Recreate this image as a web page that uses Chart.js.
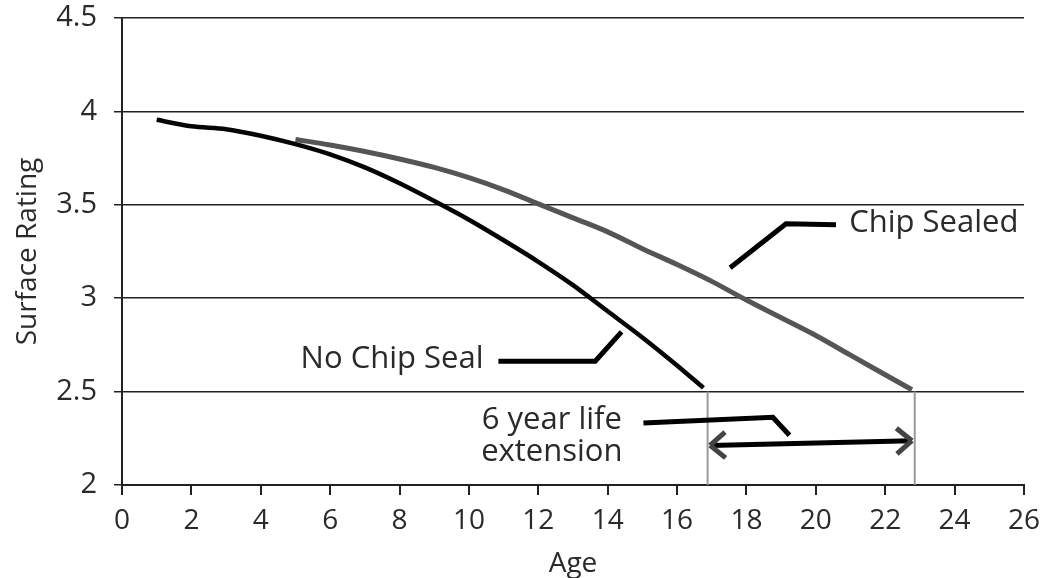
<!DOCTYPE html>
<html lang="en">
<head>
  <meta charset="UTF-8">
  <title>Surface Rating vs Age</title>
  <script src="https://cdn.jsdelivr.net/npm/chart.js"></script>
  <style>
    html, body {
      margin: 0;
      padding: 0;
      background: #fff;
    }
    .wrap {
      width: 1047px;
      height: 578px;
    }
  </style>
</head>
<body>
  <div class="wrap"><canvas id="chart"></canvas></div>

  <script>
    // curves
    const noSealAge = [1, 2, 3, 4, 5, 6, 7, 8, 9, 10, 11, 12, 13, 14, 15, 16, 16.76];
    const noSealRating = [3.955, 3.92, 3.905, 3.87, 3.825, 3.77, 3.70, 3.615, 3.52, 3.42, 3.31, 3.195, 3.07, 2.93, 2.79, 2.64, 2.52];
    const sealedAge = [5, 6, 7, 8, 9, 10, 11, 12, 13, 14, 15, 16, 17, 18, 19, 20, 21, 22, 22.77];
    const sealedRating = [3.85, 3.82, 3.785, 3.745, 3.70, 3.645, 3.58, 3.505, 3.43, 3.355, 3.265, 3.18, 3.09, 2.99, 2.895, 2.80, 2.695, 2.59, 2.51];

    const xTicks = [0, 2, 4, 6, 8, 10, 12, 14, 16, 18, 20, 22, 24, 26];
    const yTicks = [2, 2.5, 3, 3.5, 4, 4.5];

    // callouts, in data units
    const sealedLabel = ['Chip Sealed', 20.96, 3.40];
    const sealedLeader = [[17.53, 3.163], [19.14, 3.398], [20.58, 3.393]];
    const noSealLabel = ['No Chip Seal', 10.42, 2.675];
    const noSealLeader = [[10.85, 2.663], [13.64, 2.663], [14.4, 2.82]];
    const lifeLabel = [['6 year life', 12.39, 2.349], ['extension', 12.39, 2.178]];
    const lifeLeader = [[15.03, 2.332], [18.76, 2.363], [19.24, 2.266]];
    const lifeArrow = [[16.95, 2.212], [22.77, 2.237]];
    const endAges = [16.88, 22.85];

    const ink = '#222';
    const font = '"Open Sans", "Noto Sans", sans-serif';

    function pts(xs, ys) {
      return xs.map((x, i) => ({ x: x, y: ys[i] }));
    }

    const callouts = {
      id: 'callouts',
      afterDatasetsDraw(chart) {
        const ctx = chart.ctx;
        const sx = chart.scales.x, sy = chart.scales.y;
        const px = p => [sx.getPixelForValue(p[0]), sy.getPixelForValue(p[1])];

        function poly(list, color, width) {
          ctx.beginPath();
          list.forEach((p, i) => {
            const [x, y] = px(p);
            if (i === 0) ctx.moveTo(x, y); else ctx.lineTo(x, y);
          });
          ctx.strokeStyle = color;
          ctx.lineWidth = width;
          ctx.lineCap = 'butt';
          ctx.lineJoin = 'miter';
          ctx.stroke();
        }

        ctx.save();

        // thin grey drops from the curve ends
        endAges.forEach(a => poly([[a, 2.5], [a, 2]], '#9a9a9a', 2));

        poly(sealedLeader, '#000', 5);
        poly(noSealLeader, '#000', 5);
        poly(lifeLeader, '#000', 5);

        // double arrow
        const [ax, ay] = px(lifeArrow[0]);
        const [bx, by] = px(lifeArrow[1]);
        poly(lifeArrow, '#000', 5);
        const ang = Math.atan2(by - ay, bx - ax);
        const head = (x, y, dir) => {
          ctx.beginPath();
          [-0.7, 0.7].forEach(d => {
            ctx.moveTo(x, y);
            ctx.lineTo(x - dir * 20 * Math.cos(ang + d), y - dir * 20 * Math.sin(ang + d));
          });
          ctx.strokeStyle = '#444';
          ctx.lineWidth = 5;
          ctx.stroke();
        };
        head(bx, by, 1);
        head(ax, ay, -1);

        ctx.fillStyle = '#2a2a2a';
        ctx.font = '31px ' + font;
        ctx.textBaseline = 'middle';
        ctx.textAlign = 'left';
        let [tx, ty] = px([sealedLabel[1], sealedLabel[2]]);
        ctx.fillText(sealedLabel[0], tx, ty);
        ctx.textAlign = 'right';
        [tx, ty] = px([noSealLabel[1], noSealLabel[2]]);
        ctx.fillText(noSealLabel[0], tx, ty);
        ctx.textAlign = 'center';
        lifeLabel.forEach(l => {
          const [lx, ly] = px([l[1], l[2]]);
          ctx.fillText(l[0], lx, ly);
        });

        ctx.restore();
      }
    };

    new Chart(document.getElementById('chart'), {
      type: 'scatter',
      data: {
        datasets: [
          {
            label: 'No Chip Seal',
            data: pts(noSealAge, noSealRating),
            showLine: true,
            borderColor: '#050505',
            borderWidth: 4.5,
            pointRadius: 0,
            tension: 0.3
          },
          {
            label: 'Chip Sealed',
            data: pts(sealedAge, sealedRating),
            showLine: true,
            borderColor: '#555',
            borderWidth: 5,
            pointRadius: 0,
            tension: 0.3
          }
        ]
      },
      options: {
        responsive: true,
        maintainAspectRatio: false,
        animation: false,
        layout: { padding: { top: 18, right: 23, left: 0, bottom: 0 } },
        plugins: {
          legend: { display: false },
          tooltip: { enabled: false }
        },
        scales: {
          x: {
            type: 'linear',
            min: xTicks[0],
            max: xTicks[xTicks.length - 1],
            afterBuildTicks: s => { s.ticks = xTicks.map(v => ({ value: v })); },
            afterFit: s => { s.height = 93; s.paddingLeft = 0; s.paddingRight = 0; },
            border: { display: true, color: ink, width: 2 },
            grid: { color: 'rgba(0,0,0,0)', tickColor: ink, tickLength: 10, lineWidth: 2, drawTicks: true },
            ticks: { color: '#2a2a2a', font: { family: font, size: 28 }, padding: 9, maxRotation: 0 },
            title: { display: true, text: 'Age', color: '#2a2a2a', font: { family: font, size: 28 }, padding: { top: 0, bottom: -3 } }
          },
          y: {
            min: yTicks[0],
            max: yTicks[yTicks.length - 1],
            afterBuildTicks: s => { s.ticks = yTicks.map(v => ({ value: v })); },
            afterFit: s => { s.width = 122; s.paddingTop = 0; s.paddingBottom = 0; },
            border: { display: true, color: ink, width: 2 },
            grid: { color: ink, tickColor: ink, lineWidth: 1.5, tickLength: 8 },
            ticks: {
              color: '#2a2a2a',
              font: { family: font, size: 29 },
              padding: 17,
              callback: v => String(v)
            },
            title: { display: true, text: 'Surface Rating', color: '#2a2a2a', font: { family: font, size: 28 }, padding: { top: 11, bottom: 0 } }
          }
        }
      },
      plugins: [callouts]
    });
  </script>
</body>
</html>
